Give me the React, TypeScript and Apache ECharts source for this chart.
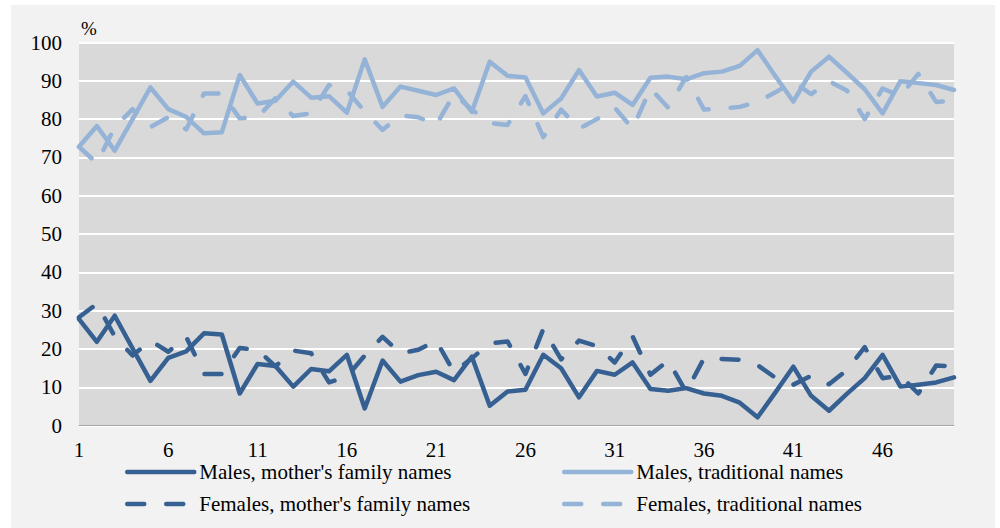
import React, { useEffect, useRef } from "react";
import * as echarts from "echarts";

const categories = [
  "1", "2", "3", "4", "5", "6", "7", "8", "9", "10",
  "11", "12", "13", "14", "15", "16", "17", "18", "19", "20",
  "21", "22", "23", "24", "25", "26", "27", "28", "29", "30",
  "31", "32", "33", "34", "35", "36", "37", "38", "39", "40",
  "41", "42", "43", "44", "45", "46", "47", "48", "49", "50",
];

const malesMother = [
  27.8, 21.9, 28.7, 20.2, 11.7, 17.7, 19.4, 24.1, 23.8, 8.4,
  16.1, 15.6, 10.2, 14.8, 14.2, 18.5, 4.5, 17.0, 11.5, 13.2,
  14.1, 11.9, 18.0, 5.2, 8.9, 9.4, 18.5, 15.0, 7.4, 14.3,
  13.3, 16.5, 9.6, 9.1, 9.8, 8.4, 7.8, 6.0, 2.2, 8.7,
  15.4, 7.8, 3.9, 8.3, 12.4, 18.5, 10.2, 10.7, 11.3, 12.6,
];

const malesTraditional = [
  72.8, 78.2, 71.8, 80.0, 88.3, 82.6, 80.6, 76.3, 76.6, 91.5,
  84.1, 84.8, 89.8, 85.6, 86.0, 81.7, 95.6, 83.2, 88.5, 87.4,
  86.3, 88.0, 81.9, 95.0, 91.3, 90.9, 81.5, 85.4, 92.8, 85.9,
  86.9, 83.7, 90.8, 91.1, 90.4, 92.0, 92.4, 93.9, 98.0, 91.2,
  84.6, 92.4, 96.3, 92.1, 87.8, 81.5, 89.9, 89.4, 88.9, 87.6,
];

const femalesMother = [
  28.3, 31.8, 23.3, 18.3, 22.2, 19.3, 23.2, 13.5, 13.5, 20.3,
  19.8, 15.5, 19.6, 18.9, 11.3, 12.8, 18.3, 23.2, 18.9, 19.8,
  22.2, 14.0, 17.6, 21.5, 22.0, 13.5, 25.2, 17.3, 22.2, 20.8,
  16.5, 23.3, 13.3, 17.0, 8.8, 17.6, 17.4, 17.2, 15.8, 12.5,
  10.7, 13.0, 10.8, 14.5, 20.5, 12.4, 13.0, 8.4, 15.7, 15.5,
];

const femalesTraditional = [
  72.8, 68.5, 77.9, 82.6, 77.9, 80.5, 77.3, 86.7, 86.7, 80.2,
  80.5, 85.5, 80.8, 81.5, 88.9, 87.5, 82.0, 77.2, 81.0, 80.5,
  78.5, 86.5, 82.5, 79.0, 78.5, 86.0, 75.3, 82.5, 77.5, 80.0,
  83.0, 77.5, 88.0, 83.0, 91.0, 82.5, 82.7, 83.2, 84.5, 87.0,
  89.8, 86.5, 89.9, 87.5, 80.0, 88.0, 86.0, 91.8, 84.5, 84.8,
];

const seriesNames = [
  "Males, mother's family names",
  "Males, traditional names",
  "Females, mother's family names",
  "Females, traditional names",
];

const DARK = "#376092";
const LIGHT = "#95b3d7";
const FONT = "'Liberation Serif', 'Times New Roman', serif";
const DASH = [17, 22];
const LW = 4.5;

export default function App() {
  const ref = useRef<HTMLDivElement>(null);

  useEffect(() => {
    if (!ref.current) return;
    const chart = echarts.init(ref.current, undefined, { renderer: "svg" });

    const mkSeries = (name: string, data: number[], color: string, dashed: boolean) => ({
      name,
      type: "line",
      data,
      symbol: "none",
      showSymbol: false,
      smooth: false,
      lineStyle: {
        color,
        width: LW,
        type: dashed ? DASH : "solid",
        cap: "round",
        join: "round",
      },
      itemStyle: { color },
    });

    const legendCommon = {
      orient: "vertical",
      padding: 0,
      itemWidth: 67,
      itemHeight: 14,
      itemGap: 11,
      textStyle: { fontFamily: FONT, fontSize: 21, color: "#000", lineHeight: 21 },
      lineStyle: { width: LW, cap: "round" },
      itemStyle: { opacity: 0 },
    };

    chart.setOption({
      animation: false,
      backgroundColor: "transparent",
      grid: {
        left: 79,
        right: 46,
        top: 42.5,
        bottom: 102.3,
        show: true,
        backgroundColor: "#d9d9d9",
        borderWidth: 0,
      },
      legend: [
        {
          ...legendCommon,
          left: 125,
          top: 461.5,
          data: [seriesNames[0], seriesNames[2]],
        },
        {
          ...legendCommon,
          left: 562,
          top: 461.5,
          data: [seriesNames[1], seriesNames[3]],
        },
      ],
      xAxis: {
        type: "category",
        data: categories,
        boundaryGap: false,
        axisLine: { show: true, lineStyle: { color: "#a6a6a6", width: 1 } },
        axisTick: { show: false },
        axisLabel: {
          interval: 4,
          margin: 14,
          fontFamily: FONT,
          fontSize: 21,
          color: "#000",
        },
        splitLine: { show: false },
      },
      yAxis: {
        type: "value",
        min: 0,
        max: 100,
        interval: 10,
        name: "%",
        nameLocation: "end",
        nameGap: 5,
        nameTextStyle: {
          fontFamily: FONT,
          fontSize: 19,
          color: "#000",
          align: "left",
          verticalAlign: "bottom",
          padding: [0, 0, 0, 2],
        },
        axisLine: { show: false },
        axisTick: { show: false },
        axisLabel: {
          margin: 17,
          fontFamily: FONT,
          fontSize: 21,
          color: "#000",
        },
        splitLine: { show: true, lineStyle: { color: "#ffffff", width: 2 } },
      },
      series: [
        mkSeries(seriesNames[0], malesMother, DARK, false),
        mkSeries(seriesNames[1], malesTraditional, LIGHT, false),
        mkSeries(seriesNames[2], femalesMother, DARK, true),
        mkSeries(seriesNames[3], femalesTraditional, LIGHT, true),
      ],
    });

    return () => chart.dispose();
  }, []);

  return (
    <div
      style={{
        position: "fixed",
        left: 0,
        top: 0,
        width: 1000,
        height: 528,
        background: "#ffffff",
        overflow: "hidden",
      }}
    >
      <div
        style={{
          position: "absolute",
          left: 11,
          top: 5,
          width: 984,
          height: 523,
          background: "#f2f2f2",
        }}
      />
      <div
        ref={ref}
        style={{ position: "absolute", left: 0, top: 0, width: 1000, height: 528 }}
      />
    </div>
  );
}
